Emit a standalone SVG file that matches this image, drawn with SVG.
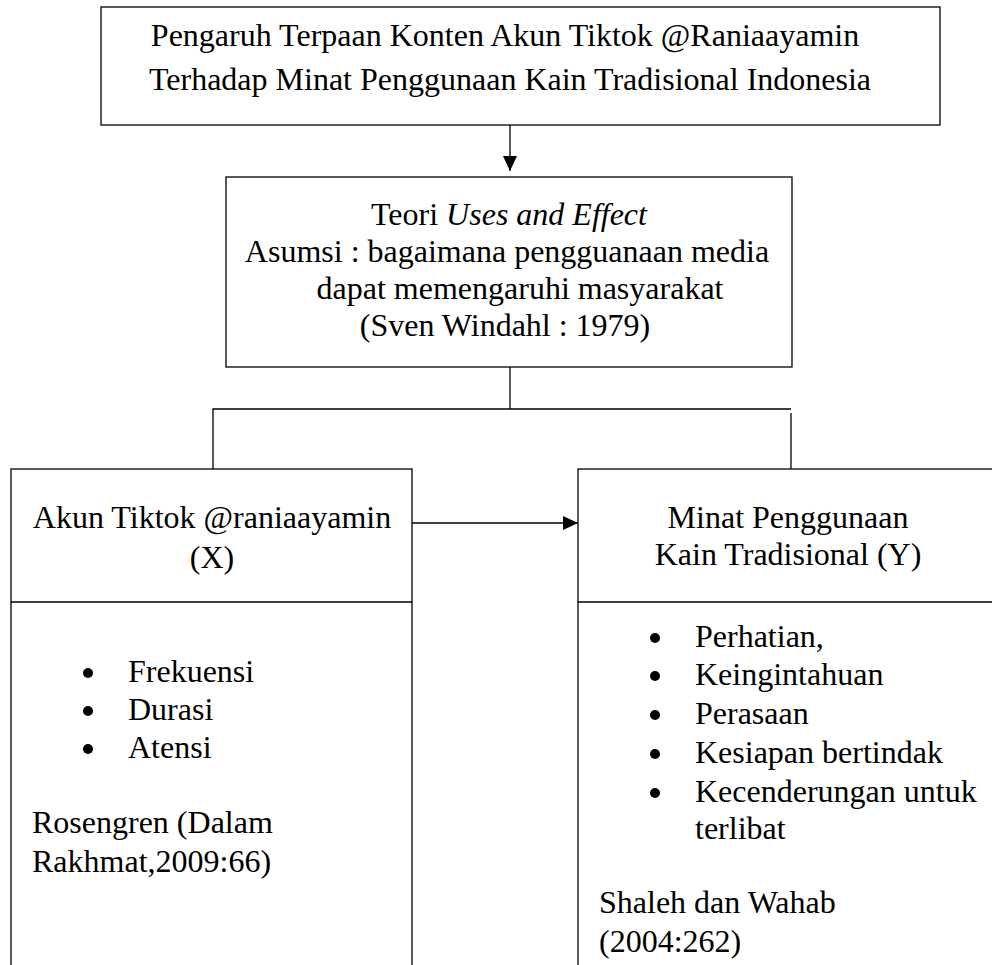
<svg xmlns="http://www.w3.org/2000/svg" width="992" height="965" viewBox="0 0 992 965" font-family="'Liberation Serif', 'Times New Roman', serif">
<style>
.box{fill:#fff;stroke:#000;stroke-width:1.3}
.ln{fill:none;stroke:#000;stroke-width:1.3}
text{font-family:'Liberation Serif','Times New Roman',serif;font-size:32px;fill:#000}
.c{text-anchor:middle}
</style>
<defs>
<marker id="ah" markerWidth="15" markerHeight="14" refX="15" refY="7" orient="auto" markerUnits="userSpaceOnUse" viewBox="0 0 15 14">
<path d="M0,0 L15,7 L0,14 Z" fill="#000"/>
</marker>
</defs>
<g id="connectors">
<line class="ln" x1="510" y1="125" x2="510" y2="171" marker-end="url(#ah)"/>
<polyline class="ln" points="510,367 510,409"/>
<polyline class="ln" points="213,469 213,409 791,409"/>
<line class="ln" x1="791" y1="413" x2="791" y2="469"/>
<line class="ln" x1="412" y1="523" x2="578" y2="523" marker-end="url(#ah)"/>
</g>
<g id="title">
<rect class="box" x="101" y="7" width="839" height="118"/>
<text class="c" x="505" y="46">Pengaruh Terpaan Konten Akun Tiktok @Raniaayamin</text>
<text class="c" x="510" y="90">Terhadap Minat Penggunaan Kain Tradisional Indonesia</text>
</g>
<g id="theory">
<rect class="box" x="226" y="177" width="566" height="190"/>
<text class="c" x="509" y="225">Teori <tspan font-style="italic">Uses and Effect</tspan></text>
<text class="c" x="507" y="262">Asumsi : bagaimana pengguanaan media</text>
<text class="c" x="520" y="299">dapat memengaruhi masyarakat</text>
<text class="c" x="505" y="336">(Sven Windahl : 1979)</text>
</g>
<g id="var-x">
<rect class="box" x="11" y="469" width="401" height="520"/>
<line class="ln" x1="11" y1="602" x2="412" y2="602"/>
<text class="c" x="212" y="528">Akun Tiktok @raniaayamin</text>
<text class="c" x="212" y="568">(X)</text>
<circle cx="88" cy="673" r="5"/>
<circle cx="88" cy="711" r="5"/>
<circle cx="88" cy="749" r="5"/>
<text x="128" y="682">Frekuensi</text>
<text x="128" y="720">Durasi</text>
<text x="128" y="758">Atensi</text>
<text x="32" y="833">Rosengren (Dalam</text>
<text x="32" y="872">Rakhmat,2009:66)</text>
</g>
<g id="var-y">
<rect class="box" x="578" y="469" width="430" height="520"/>
<line class="ln" x1="578" y1="602" x2="1000" y2="602"/>
<text class="c" x="788" y="528">Minat Penggunaan</text>
<text class="c" x="788" y="565">Kain Tradisional (Y)</text>
<circle cx="655" cy="638" r="5"/>
<circle cx="655" cy="676" r="5"/>
<circle cx="655" cy="715" r="5"/>
<circle cx="655" cy="754" r="5"/>
<circle cx="655" cy="793" r="5"/>
<text x="695" y="647">Perhatian,</text>
<text x="695" y="685">Keingintahuan</text>
<text x="695" y="724">Perasaan</text>
<text x="695" y="763">Kesiapan bertindak</text>
<text x="695" y="802">Kecenderungan untuk</text>
<text x="695" y="839">terlibat</text>
<text x="599" y="913">Shaleh dan Wahab</text>
<text x="599" y="952">(2004:262)</text>
</g>
</svg>
